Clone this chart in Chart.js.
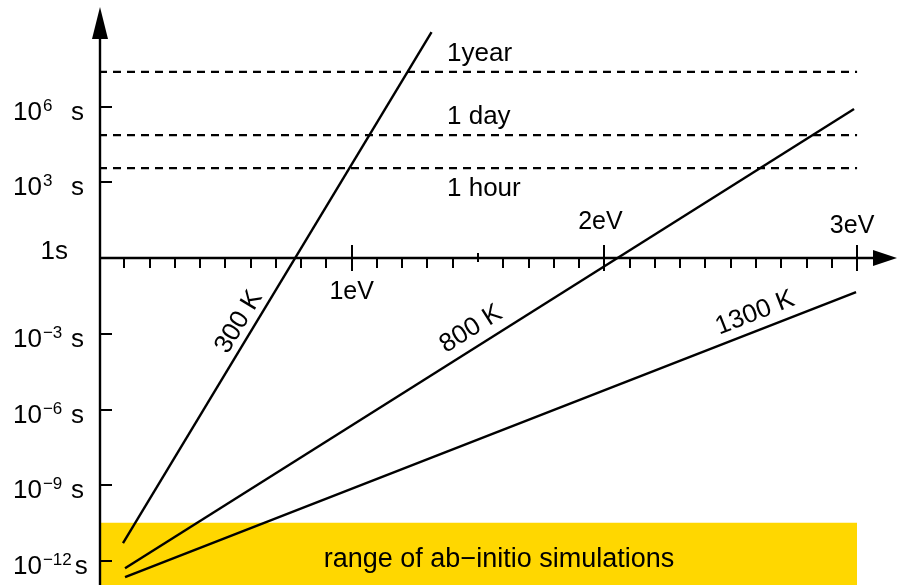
<!DOCTYPE html>
<html>
<head>
<meta charset="utf-8">
<script src="https://cdn.jsdelivr.net/npm/chart.js@4.4.0/dist/chart.umd.min.js"></script>
<style>
  html, body { margin: 0; padding: 0; background: #fff; }
  #c { display: block; }
</style>
</head>
<body>
<canvas id="c" width="897" height="585"></canvas>
<script>
'use strict';
// Globals - values (energy in eV, time in seconds)
var energy300 = [0.095, 1.316];
var time300 = [5.1e-12, 8.9e8];
var energy800 = [0.103, 2.988];
var time800 = [5.2e-13, 7.9e5];
var energy1300 = [0.103, 2.996];
var time1300 = [2.3e-13, 4.5e-2];

var markerNames = ['1year', '1 day', '1 hour'];
var markerTimes = [2.35e7, 7.4e4, 3.6e3];
var markerRange = [0, 3];

var bandRange = [0, 3];
var bandTop = 3.3e-11;
var bandLabel = 'range of ab\u2212initio simulations';

var yTickExponents = [-12, -9, -6, -3, 3, 6];
var xMajorTicks = [1, 2, 3];
var xMajorLabels = ['1eV', '2eV', '3eV'];
var tempLabels = ['300 K', '800 K', '1300 K'];

var FONT = '"Liberation Sans", Arial, Helvetica, sans-serif';

var toPoints = function (xs, ys) {
  var pts = [];
  for (var i = 0; i < xs.length; i++) {
    pts.push({ x: xs[i], y: ys[i] });
  }
  return pts;
};

var lineSet = function (xs, ys) {
  return {
    data: toPoints(xs, ys),
    showLine: true,
    borderColor: '#000',
    borderWidth: 2.4,
    pointRadius: 0,
    fill: false,
    order: 1
  };
};

var datasets = [];
datasets.push({
  data: toPoints(bandRange, [bandTop, bandTop]),
  showLine: true,
  borderWidth: 0,
  borderColor: 'rgba(0,0,0,0)',
  backgroundColor: '#FFD700',
  pointRadius: 0,
  fill: 'start',
  order: 10
});
for (var m = 0; m < markerTimes.length; m++) {
  datasets.push({
    data: toPoints(markerRange, [markerTimes[m], markerTimes[m]]),
    showLine: true,
    borderColor: '#000',
    borderWidth: 2.2,
    borderDash: [8, 6],
    pointRadius: 0,
    fill: false,
    order: 5
  });
}
datasets.push(lineSet(energy300, time300));
datasets.push(lineSet(energy800, time800));
datasets.push(lineSet(energy1300, time1300));

// draws the axes, ticks and all the text
var overlay = {
  id: 'overlay',
  afterDatasetsDraw: function (chart) {
    var ctx = chart.ctx;
    var xs = chart.scales.x;
    var ys = chart.scales.y;
    var x0 = xs.getPixelForValue(0) + 1;
    var y0 = ys.getPixelForValue(1);
    var i, px, py;

    ctx.save();
    ctx.strokeStyle = '#000';
    ctx.fillStyle = '#000';
    ctx.lineWidth = 2.4;

    // y axis + arrow
    ctx.beginPath();
    ctx.moveTo(x0, chart.height);
    ctx.lineTo(x0, 38);
    ctx.stroke();
    ctx.beginPath();
    ctx.moveTo(x0, 7);
    ctx.lineTo(x0 - 8, 39);
    ctx.lineTo(x0 + 8, 39);
    ctx.closePath();
    ctx.fill();

    // x axis + arrow
    ctx.beginPath();
    ctx.moveTo(x0, y0);
    ctx.lineTo(874, y0);
    ctx.stroke();
    ctx.beginPath();
    ctx.moveTo(897, y0);
    ctx.lineTo(873, y0 - 8);
    ctx.lineTo(873, y0 + 8);
    ctx.closePath();
    ctx.fill();

    // y ticks
    ctx.lineWidth = 2;
    for (i = 0; i < yTickExponents.length; i++) {
      py = Math.round(ys.getPixelForValue(Math.pow(10, yTickExponents[i])));
      ctx.beginPath();
      ctx.moveTo(x0, py);
      ctx.lineTo(x0 + 12, py);
      ctx.stroke();
    }

    // x ticks, one every 0.1 eV
    for (i = 1; i <= 30; i++) {
      px = Math.round(xs.getPixelForValue(i / 10));
      ctx.beginPath();
      if (i % 10 === 0) {
        ctx.moveTo(px, y0 - 13);
        ctx.lineTo(px, y0 + 13);
      } else if (i === 15) {
        ctx.moveTo(px, y0 - 5);
        ctx.lineTo(px, y0 + 4);
      } else {
        ctx.moveTo(px, y0);
        ctx.lineTo(px, y0 + 10);
      }
      ctx.stroke();
    }

    // y labels
    ctx.textBaseline = 'alphabetic';
    ctx.textAlign = 'left';
    for (i = 0; i < yTickExponents.length; i++) {
      var e = yTickExponents[i];
      py = ys.getPixelForValue(Math.pow(10, e)) + 13;
      ctx.font = '26px ' + FONT;
      ctx.fillText('10', 13, py);
      var w = ctx.measureText('10').width;
      var expStr = (e < 0 ? '\u2212' : '') + Math.abs(e);
      ctx.font = '17px ' + FONT;
      ctx.fillText(expStr, 13 + w + 1, py - 9);
      var expEnd = 13 + w + 1 + ctx.measureText(expStr).width;
      ctx.font = '26px ' + FONT;
      ctx.fillText('s', Math.max(71, expEnd + 3), py);
    }
    ctx.textAlign = 'right';
    ctx.fillText('1s', 68, y0 + 1);

    // x labels
    ctx.textAlign = 'center';
    ctx.font = '25px ' + FONT;
    var xLabelBase = [y0 + 41, y0 - 29, y0 - 25];
    var xLabelShift = [0, -4, -5];
    for (i = 0; i < xMajorTicks.length; i++) {
      px = xs.getPixelForValue(xMajorTicks[i]);
      ctx.fillText(xMajorLabels[i], px + xLabelShift[i], xLabelBase[i]);
    }

    // dashed line names
    ctx.textAlign = 'left';
    ctx.font = '26px ' + FONT;
    var nameBase = [61, 124, 196];
    for (i = 0; i < markerNames.length; i++) {
      ctx.fillText(markerNames[i], 447, nameBase[i]);
    }

    // band label
    ctx.textAlign = 'center';
    ctx.font = '27px ' + FONT;
    ctx.fillText(bandLabel, 499, 567);

    // temperature labels along the lines
    var tempPos = [[239, 322, -58.8], [471, 329, -32.2], [755, 313, -21.3]];
    ctx.font = '26px ' + FONT;
    ctx.textBaseline = 'middle';
    for (i = 0; i < tempLabels.length; i++) {
      ctx.save();
      ctx.translate(tempPos[i][0], tempPos[i][1]);
      ctx.rotate(tempPos[i][2] * Math.PI / 180);
      ctx.fillText(tempLabels[i], 0, 0);
      ctx.restore();
    }
    ctx.restore();
  }
};

var ctx = document.getElementById('c').getContext('2d');
var chart = new Chart(ctx, {
  type: 'scatter',
  data: { datasets: datasets },
  options: {
    responsive: false,
    animation: false,
    devicePixelRatio: 1,
    layout: { padding: { left: 99, right: 0, top: 0, bottom: 0 } },
    plugins: { legend: { display: false }, tooltip: { enabled: false } },
    scales: {
      x: { type: 'linear', display: false, min: 0, max: 3.158 },
      y: { type: 'logarithmic', display: false, min: Math.pow(10, -12.95), max: Math.pow(10, 10.218) }
    }
  },
  plugins: [overlay]
});
</script>
</body>
</html>
